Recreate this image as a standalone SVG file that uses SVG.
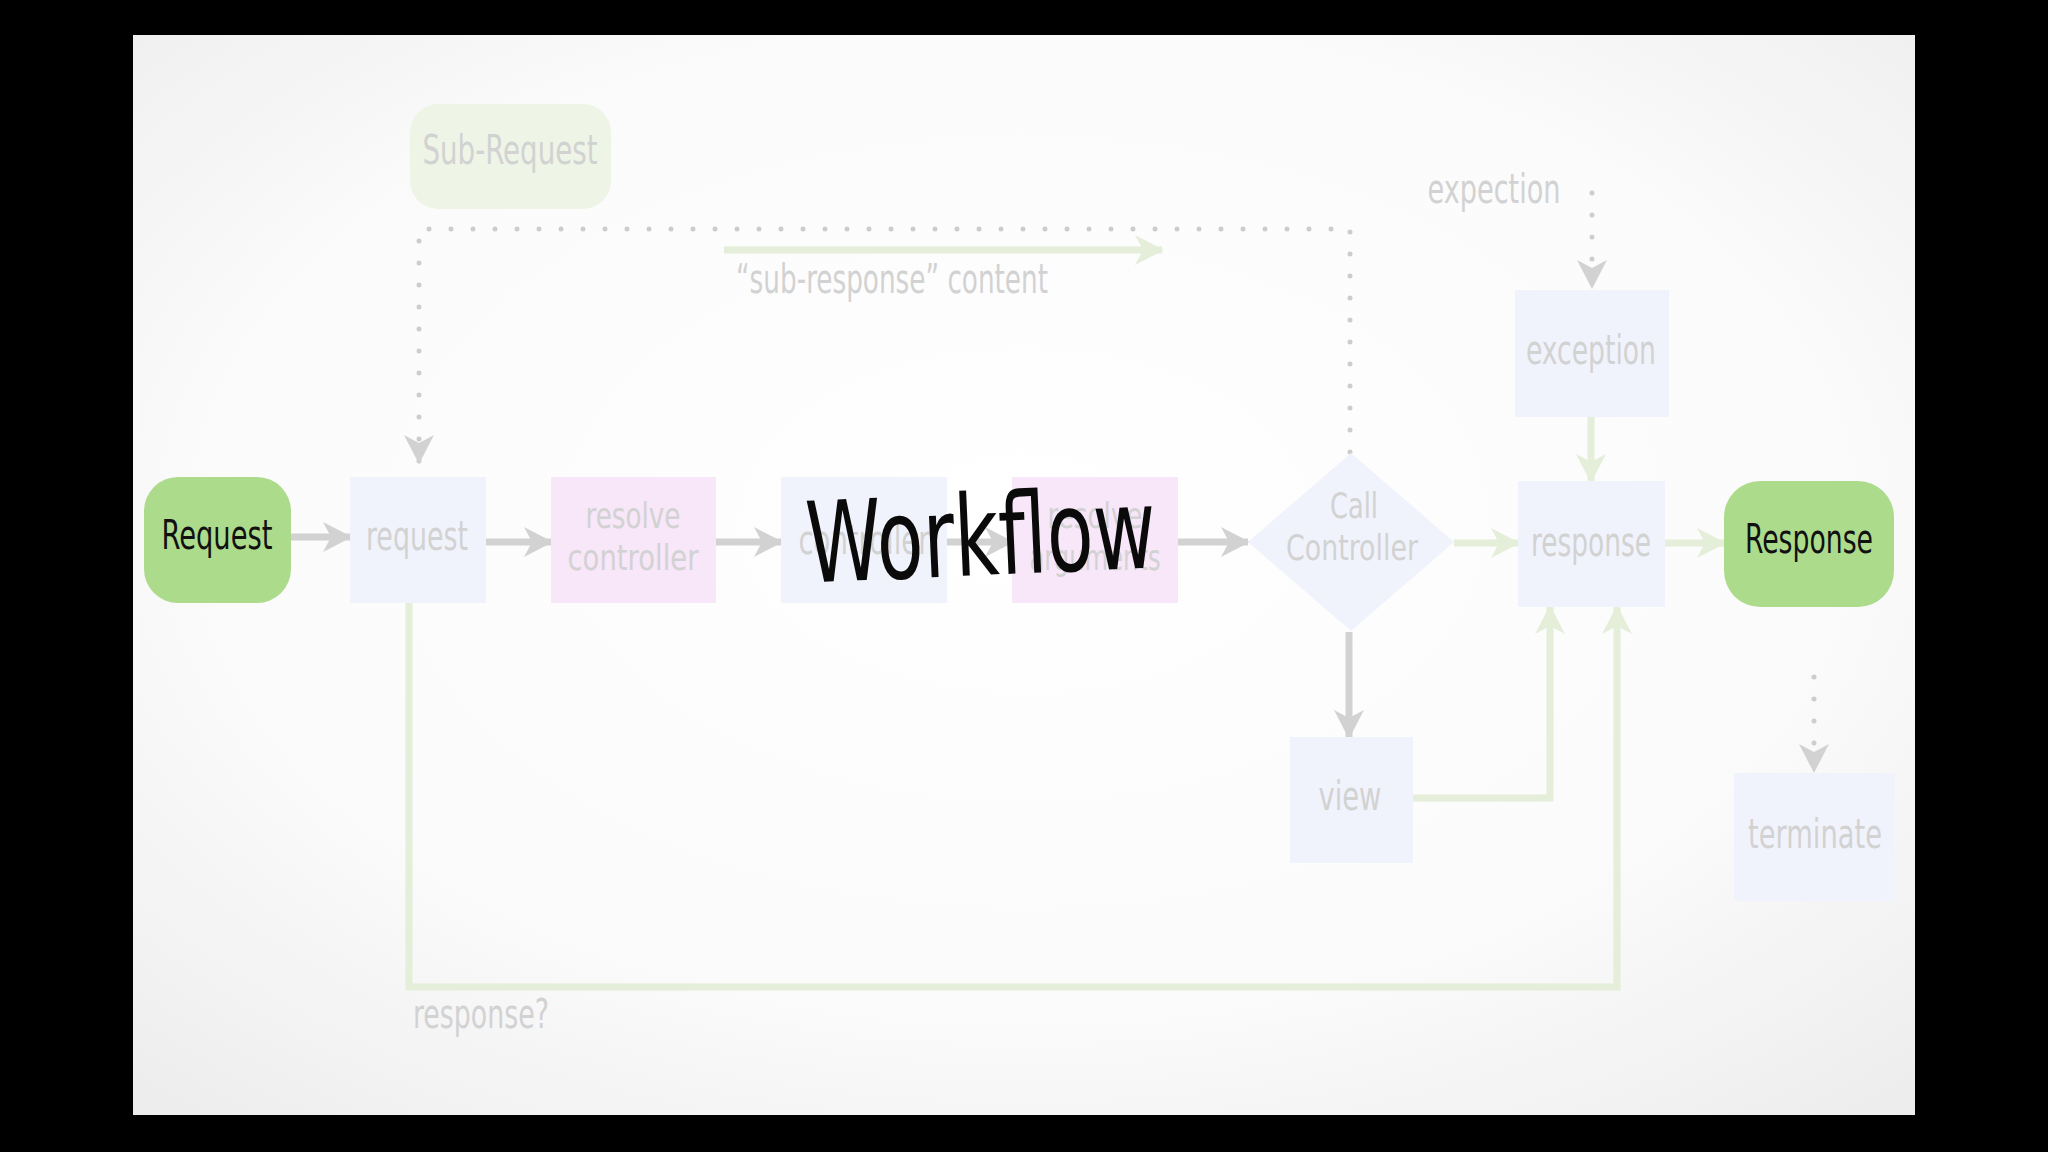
<svg xmlns="http://www.w3.org/2000/svg" width="2048" height="1152" viewBox="0 0 2048 1152">
<defs>
<radialGradient id="bg" cx="0.5" cy="0.45" r="0.75">
<stop offset="0" stop-color="#ffffff"/>
<stop offset="0.6" stop-color="#fbfbfc"/>
<stop offset="1" stop-color="#ececed"/>
</radialGradient>
<marker id="ag" markerUnits="userSpaceOnUse" markerWidth="32" markerHeight="32" refX="27" refY="15" orient="auto">
<path d="M0,0 L29,15 L0,30 L8,15 Z" fill="#d2d2d2"/>
</marker>
<marker id="an" markerUnits="userSpaceOnUse" markerWidth="32" markerHeight="32" refX="27" refY="15" orient="auto">
<path d="M0,0 L29,15 L0,30 L8,15 Z" fill="#e4eed8"/>
</marker>
</defs>
<style>
.t{font-family:"Liberation Sans Narrow","DejaVu Sans Condensed","Liberation Sans",sans-serif;font-size:40px;fill:#d2d2d2;text-anchor:middle}
.s{font-size:35px}
.dark{fill:#111111}
.blue{fill:#f1f3fc}
.pink{fill:#f8e6f9}
.green{fill:#addb8c}
.g{fill:none;stroke:#d2d2d2;stroke-width:7}
.n{fill:none;stroke:#e4eed8;stroke-width:7}
.d{fill:none;stroke:#cdcdcd;stroke-width:5;stroke-linecap:round;stroke-dasharray:0 22}
</style>
<rect width="2048" height="1152" fill="#000"/>
<rect x="133" y="35" width="1782" height="1080" fill="url(#bg)"/>

<g id="connectors">
<line class="g" x1="291" y1="537" x2="350" y2="537" marker-end="url(#ag)"/>
<line class="g" x1="486" y1="542" x2="551" y2="542" marker-end="url(#ag)"/>
<line class="g" x1="716" y1="542" x2="781" y2="542" marker-end="url(#ag)"/>
<line class="g" x1="947" y1="542" x2="1012" y2="542" marker-end="url(#ag)"/>
<line class="g" x1="1178" y1="542" x2="1248" y2="542" marker-end="url(#ag)"/>
<line class="n" x1="1454" y1="543" x2="1518" y2="543" marker-end="url(#an)"/>
<line class="n" x1="1665" y1="543" x2="1724" y2="543" marker-end="url(#an)"/>
<line class="n" x1="1591" y1="417" x2="1591" y2="481" marker-end="url(#an)"/>
<line class="g" x1="1349" y1="632" x2="1349" y2="737" marker-end="url(#ag)"/>
<path class="n" d="M1383,798 H1550 V607" marker-end="url(#an)"/>
<path class="n" d="M409,603 V987 H1617 V607" marker-end="url(#an)"/>
<line class="n" x1="724" y1="250" x2="1162" y2="250" marker-end="url(#an)"/>
<path class="d" d="M1350,452 V229 H419 V462"/>
<path fill="none" stroke="none" d="M419,430 V462" marker-end="url(#ag)"/>
<path class="d" d="M1592,193 V262"/>
<path fill="none" stroke="none" d="M1592,255 V287" marker-end="url(#ag)"/>
<path class="d" d="M1814,677 V745"/>
<path fill="none" stroke="none" d="M1814,740 V771" marker-end="url(#ag)"/>
</g>

<g id="sub-request">
<rect x="410" y="104" width="201" height="105" rx="28" fill="#eef5e7"/>
<text class="t" x="510" y="164" textLength="175" lengthAdjust="spacingAndGlyphs">Sub-Request</text>
</g>
<g id="request-start">
<rect class="green" x="144" y="477" width="147" height="126" rx="34"/>
<text class="t dark" x="217" y="549" textLength="111" lengthAdjust="spacingAndGlyphs">Request</text>
</g>
<g id="request">
<rect class="blue" x="350" y="477" width="136" height="126"/>
<text class="t" x="417" y="550" textLength="102" lengthAdjust="spacingAndGlyphs">request</text>
</g>
<g id="resolve-controller">
<rect class="pink" x="551" y="477" width="165" height="126"/>
<text class="t s" x="633" y="528" textLength="95" lengthAdjust="spacingAndGlyphs">resolve</text>
<text class="t s" x="633" y="570" textLength="131" lengthAdjust="spacingAndGlyphs">controller</text>
</g>
<g id="controller">
<rect class="blue" x="781" y="477" width="166" height="126"/>
<text class="t" x="864" y="554" textLength="131" lengthAdjust="spacingAndGlyphs">controller</text>
</g>
<g id="resolve-arguments">
<rect class="pink" x="1012" y="477" width="166" height="126"/>
<text class="t s" x="1095" y="528" textLength="95" lengthAdjust="spacingAndGlyphs">resolve</text>
<text class="t s" x="1095" y="570" textLength="131" lengthAdjust="spacingAndGlyphs">arguments</text>
</g>
<g id="call-controller">
<polygon class="blue" points="1351,453 1454,542 1351,631 1248,542"/>
<text class="t s" x="1354" y="518" textLength="48" lengthAdjust="spacingAndGlyphs">Call</text>
<text class="t s" x="1352" y="560" textLength="132" lengthAdjust="spacingAndGlyphs">Controller</text>
</g>
<g id="exception">
<rect class="blue" x="1515" y="290" width="154" height="127"/>
<text class="t" x="1591" y="364" textLength="130" lengthAdjust="spacingAndGlyphs">exception</text>
</g>
<g id="response">
<rect class="blue" x="1518" y="481" width="147" height="126"/>
<text class="t" x="1591" y="556" textLength="120" lengthAdjust="spacingAndGlyphs">response</text>
</g>
<g id="response-end">
<rect class="green" x="1724" y="481" width="170" height="126" rx="36"/>
<text class="t dark" x="1809" y="553" textLength="128" lengthAdjust="spacingAndGlyphs">Response</text>
</g>
<g id="view">
<rect class="blue" x="1290" y="737" width="123" height="126"/>
<text class="t" x="1350" y="810" textLength="63" lengthAdjust="spacingAndGlyphs">view</text>
</g>
<g id="terminate">
<rect class="blue" x="1734" y="773" width="161" height="128"/>
<text class="t" x="1815" y="848" textLength="134" lengthAdjust="spacingAndGlyphs">terminate</text>
</g>

<g id="labels">
<text class="t" x="1494" y="203" textLength="133" lengthAdjust="spacingAndGlyphs">expection</text>
<text class="t" x="892" y="293" textLength="312" lengthAdjust="spacingAndGlyphs">“sub-response” content</text>
<text class="t" x="481" y="1028" textLength="136" lengthAdjust="spacingAndGlyphs">response?</text>
</g>

<g id="title">
<text x="806" y="575" transform="rotate(-2.5 980 540)" font-family="Liberation Sans Narrow,DejaVu Sans Condensed,Liberation Sans,sans-serif" font-size="112" fill="#0a0a0a" textLength="350" lengthAdjust="spacingAndGlyphs">Workflow</text>
</g>
</svg>
